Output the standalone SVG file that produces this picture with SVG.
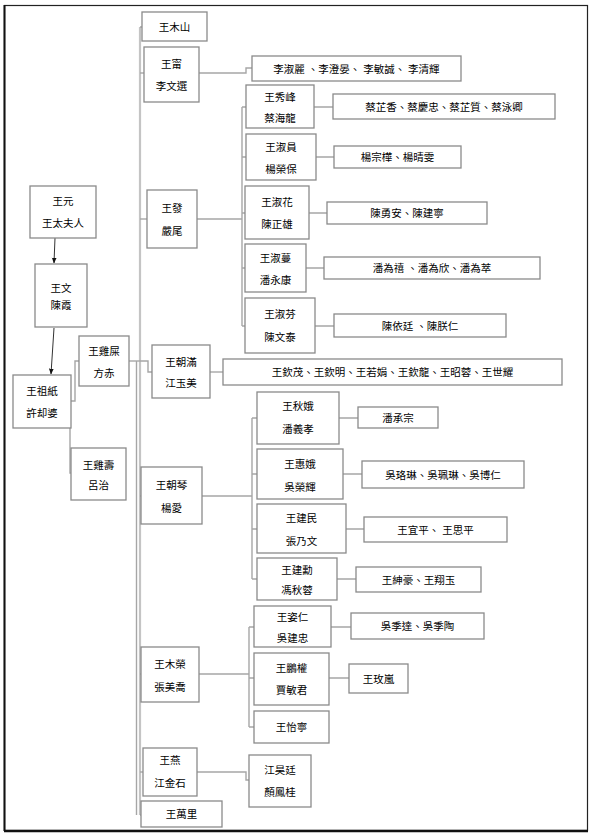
<svg xmlns="http://www.w3.org/2000/svg" width="594" height="836" viewBox="0 0 594 836">
<defs>
<style>
.b{fill:#fff;stroke:#8a8a8a;stroke-width:1.3}
.t{font-family:"Liberation Sans","Noto Sans CJK TC",sans-serif;font-size:10.5px;fill:#000;text-anchor:middle;dominant-baseline:central}
.c{fill:none;stroke:#a6a6a6;stroke-width:1.4}
.tr{fill:none;stroke:#c4c4c4;stroke-width:2.2}
.a{fill:none;stroke:#333;stroke-width:1;marker-end:url(#arr)}
</style>
<marker id="arr" viewBox="0 0 10 10" refX="9" refY="5" markerWidth="6" markerHeight="6" orient="auto">
<path d="M0,1 L10,5 L0,9 Z" fill="#111"/>
</marker>
</defs>
<rect x="0" y="0" width="594" height="836" fill="#fff"/>
<rect x="4.5" y="5.5" width="583" height="825" fill="none" stroke="#222" stroke-width="1.2"/>
<line x1="4.5" y1="5" x2="4.5" y2="831" stroke="#111" stroke-width="2"/>
<line x1="4" y1="831" x2="588" y2="831" stroke="#111" stroke-width="2.5"/>

<g id="connectors">
<line class="a" x1="55" y1="238" x2="54" y2="263"/>
<line class="a" x1="54" y1="328" x2="51" y2="374"/>
<path class="c" d="M71,401 H75 V361 H79"/>
<path class="c" d="M70,428 V473 H71"/>
<path class="tr" d="M140,27 V815"/>
<path class="c" d="M136.5,361 V815" stroke="#999"/>
<path class="c" d="M129,361 H140"/>
<path class="c" d="M140,27 H142"/>
<path class="c" d="M140,73 H144"/>
<path class="c" d="M140,219 H147"/>
<path class="c" d="M140,361 H148 V372 H152"/>
<path class="c" d="M140,496 H141"/>
<path class="c" d="M140,674 H141"/>
<path class="c" d="M140,772 H143"/>
<path class="c" d="M140,815 H141"/>
<path class="c" d="M199,73 H246 V68 H252"/>
<path class="c" d="M197,219 H242"/>
<path class="c" d="M242,107 V326"/>
<path class="c" d="M242,107 H246 M242,157 H246 M242,213 H245 M242,268 H245 M242,326 H245"/>
<path class="c" d="M314,107 H333 M316,157 H334 M309,213 H327 M306,268 H324 M315,326 H334"/>
<path class="c" d="M210,372 H223"/>
<path class="c" d="M202,496 H252"/>
<path class="c" d="M252,418 V579"/>
<path class="c" d="M252,418 H257 M252,474 H257 M252,529 H257 M252,579 H257"/>
<path class="c" d="M339,418 H358 M343,474 H362 M346,529 H364 M337,579 H356"/>
<path class="c" d="M199,674 H249"/>
<path class="c" d="M249,627 V727"/>
<path class="c" d="M249,627 H254 M249,678 H254 M249,727 H254"/>
<path class="c" d="M331,627 H351 M329,678 H349"/>
<path class="c" d="M197,772 H246 V780 H249"/>
</g>

<g id="n1"><rect class="b" x="142" y="12" width="65" height="29"/><text class="t" x="174.5" y="26.5">王木山</text></g>
<g id="n2"><rect class="b" x="144" y="47" width="55" height="55"/><text class="t" x="171.5" y="64">王甯</text><text class="t" x="171.5" y="86">李文選</text></g>
<g id="c1"><rect class="b" x="252" y="56" width="209" height="25"/><text class="t" x="356.5" y="68.5">李淑麗 、李澄晏、 李敏誠、 李清輝</text></g>
<g id="n3"><rect class="b" x="147" y="190" width="50" height="58"/><text class="t" x="172" y="208">王發</text><text class="t" x="172" y="231">嚴尾</text></g>
<g id="n4"><rect class="b" x="246" y="85" width="68" height="43"/><text class="t" x="280" y="97">王秀峰</text><text class="t" x="280" y="118">蔡海龍</text></g>
<g id="c2"><rect class="b" x="333" y="94" width="222" height="25"/><text class="t" x="444" y="106.5">蔡芷香、蔡慶忠、蔡芷質、蔡泳卿</text></g>
<g id="n5"><rect class="b" x="246" y="134" width="70" height="46"/><text class="t" x="281" y="147">王淑員</text><text class="t" x="281" y="169">楊榮保</text></g>
<g id="c3"><rect class="b" x="334" y="146" width="127" height="22"/><text class="t" x="397.5" y="157">楊宗樺、楊晴雯</text></g>
<g id="n6"><rect class="b" x="245" y="186" width="64" height="53"/><text class="t" x="277" y="202">王淑花</text><text class="t" x="277" y="224">陳正雄</text></g>
<g id="c4"><rect class="b" x="327" y="202" width="160" height="22"/><text class="t" x="407" y="213">陳勇安、陳建寧</text></g>
<g id="n7"><rect class="b" x="245" y="244" width="61" height="48"/><text class="t" x="275.5" y="257.5">王淑蔓</text><text class="t" x="275.5" y="280">潘永康</text></g>
<g id="c5"><rect class="b" x="324" y="257" width="216" height="22"/><text class="t" x="432" y="268">潘為禧 、潘為欣、潘為萃</text></g>
<g id="n8"><rect class="b" x="245" y="298" width="70" height="55"/><text class="t" x="280" y="313.5">王淑芬</text><text class="t" x="280" y="336.5">陳文泰</text></g>
<g id="c6"><rect class="b" x="334" y="314" width="172" height="23"/><text class="t" x="420" y="325.5">陳依廷 、陳朕仁</text></g>
<g id="n9"><rect class="b" x="30" y="186" width="66" height="52"/><text class="t" x="63" y="201">王元</text><text class="t" x="63" y="223">王太夫人</text></g>
<g id="n10"><rect class="b" x="35" y="264" width="52" height="63"/><text class="t" x="61" y="288">王文</text><text class="t" x="61" y="305">陳霞</text></g>
<g id="n11"><rect class="b" x="13" y="375" width="58" height="53"/><text class="t" x="42" y="391">王祖紙</text><text class="t" x="42" y="413">許却婆</text></g>
<g id="n12"><rect class="b" x="79" y="336" width="50" height="50"/><text class="t" x="104" y="351">王雞屎</text><text class="t" x="104" y="373">方赤</text></g>
<g id="n13"><rect class="b" x="71" y="448" width="55" height="52"/><text class="t" x="98.5" y="465">王雞壽</text><text class="t" x="98.5" y="485">呂治</text></g>
<g id="n14"><rect class="b" x="152" y="345" width="58" height="53"/><text class="t" x="181" y="362">王朝滿</text><text class="t" x="181" y="383">江玉美</text></g>
<g id="c7"><rect class="b" x="223" y="359" width="339" height="26"/><text class="t" x="392.5" y="372">王欽茂、王欽明、王若娟、王欽龍、王昭蓉、王世耀</text></g>
<g id="n15"><rect class="b" x="141" y="467" width="61" height="57"/><text class="t" x="171.5" y="484.5">王朝琴</text><text class="t" x="171.5" y="507.5">楊愛</text></g>
<g id="n16"><rect class="b" x="257" y="392" width="82" height="52"/><text class="t" x="298" y="406">王秋娥</text><text class="t" x="298" y="429">潘義孝</text></g>
<g id="c8"><rect class="b" x="358" y="407" width="80" height="21"/><text class="t" x="398" y="417.5">潘承宗</text></g>
<g id="n17"><rect class="b" x="257" y="449" width="86" height="50"/><text class="t" x="300" y="463.5">王惠娥</text><text class="t" x="300" y="486.5">吳榮輝</text></g>
<g id="c9"><rect class="b" x="362" y="461" width="162" height="27"/><text class="t" x="443" y="474.5">吳珞琳、吳珮琳、吳博仁</text></g>
<g id="n18"><rect class="b" x="257" y="504" width="89" height="49"/><text class="t" x="301.5" y="518">王建民</text><text class="t" x="301.5" y="540.5">張乃文</text></g>
<g id="c10"><rect class="b" x="364" y="517" width="143" height="25"/><text class="t" x="435.5" y="529.5">王宜平、 王思平</text></g>
<g id="n19"><rect class="b" x="257" y="558" width="80" height="42"/><text class="t" x="297" y="569.5">王建勳</text><text class="t" x="297" y="590">馮秋蓉</text></g>
<g id="c11"><rect class="b" x="356" y="567" width="125" height="25"/><text class="t" x="418.5" y="579.5">王紳豪、王翔玉</text></g>
<g id="n20"><rect class="b" x="141" y="647" width="58" height="55"/><text class="t" x="170" y="664">王木榮</text><text class="t" x="170" y="687">張美喬</text></g>
<g id="n21"><rect class="b" x="254" y="606" width="77" height="41"/><text class="t" x="292.5" y="617">王姿仁</text><text class="t" x="292.5" y="638">吳建忠</text></g>
<g id="c12"><rect class="b" x="351" y="613" width="133" height="26"/><text class="t" x="417.5" y="626">吳季達、吳季陶</text></g>
<g id="n22"><rect class="b" x="254" y="653" width="75" height="52"/><text class="t" x="291.5" y="667.5">王鵬權</text><text class="t" x="291.5" y="690">賈敏君</text></g>
<g id="c13"><rect class="b" x="349" y="664" width="59" height="29"/><text class="t" x="378.5" y="678.5">王玫嵐</text></g>
<g id="n23"><rect class="b" x="254" y="711" width="75" height="32"/><text class="t" x="291.5" y="727">王怡寧</text></g>
<g id="n24"><rect class="b" x="143" y="748" width="54" height="48"/><text class="t" x="170" y="760">王燕</text><text class="t" x="170" y="782.5">江金石</text></g>
<g id="n25"><rect class="b" x="249" y="755" width="62" height="52"/><text class="t" x="280" y="770">江昊廷</text><text class="t" x="280" y="792">顏鳳桂</text></g>
<g id="n26"><rect class="b" x="141" y="801" width="81" height="26"/><text class="t" x="181.5" y="814">王萬里</text></g>
</svg>
